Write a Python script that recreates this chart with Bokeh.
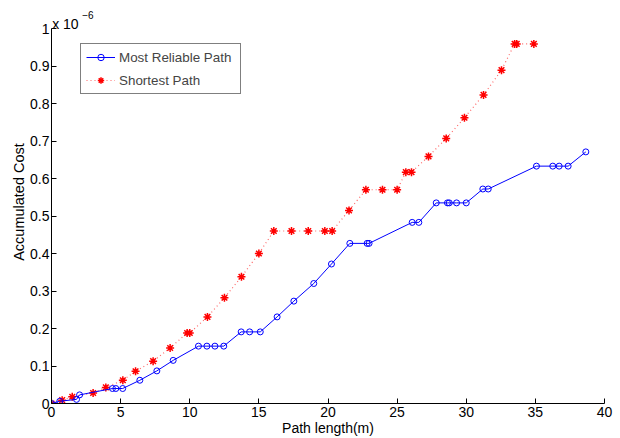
from bokeh.plotting import figure
from bokeh.models import Range1d, FixedTicker, Legend, LegendItem, Label
from bokeh.embed import file_html
from bokeh.resources import INLINE

# Accumulated cost (units of 1e-6) against path length (m)
reliable_len = [0, 0.6, 1.81, 2.03, 4.41, 4.65, 5.15, 6.39, 7.62, 8.8, 10.63, 11.24,
                11.82, 12.46, 13.72, 14.33, 15.1, 16.32, 17.53, 18.97, 20.25, 21.58,
                22.83, 22.97, 26.09, 26.57, 27.83, 28.64, 28.77, 29.3, 30.0, 31.2,
                31.59, 35.08, 36.26, 36.72, 37.37, 38.65]
reliable_cost = [0, 0.006, 0.011, 0.023, 0.040, 0.040, 0.040, 0.062, 0.087, 0.115,
                 0.153, 0.153, 0.153, 0.153, 0.191, 0.191, 0.191, 0.231, 0.273, 0.320,
                 0.372, 0.427, 0.427, 0.427, 0.483, 0.483, 0.535, 0.535, 0.535, 0.535,
                 0.535, 0.572, 0.572, 0.633, 0.633, 0.633, 0.633, 0.671]

shortest_len = [0, 0.77, 1.5, 3.01, 3.93, 5.16, 6.08, 7.35, 8.58, 9.81, 10.0, 11.28,
                12.51, 13.74, 15.0, 16.08, 17.36, 18.57, 19.77, 20.3, 21.52, 22.74,
                23.94, 25.0, 25.63, 26.04, 27.27, 28.55, 29.87, 31.25, 32.55, 33.5,
                33.65, 34.89]
shortest_cost = [0, 0.009, 0.018, 0.028, 0.043, 0.062, 0.086, 0.113, 0.148, 0.188,
                 0.188, 0.231, 0.282, 0.338, 0.400, 0.460, 0.460, 0.460, 0.460, 0.460,
                 0.515, 0.570, 0.570, 0.570, 0.617, 0.617, 0.659, 0.707, 0.762, 0.823,
                 0.889, 0.959, 0.959, 0.959]

x_ticks = [0, 5, 10, 15, 20, 25, 30, 35, 40]
y_ticks = [0, 0.1, 0.2, 0.3, 0.4, 0.5, 0.6, 0.7, 0.8, 0.9, 1]
y_tick_labels = ["0", "0.1", "0.2", "0.3", "0.4", "0.5", "0.6", "0.7", "0.8", "0.9", "1"]

FONT = "Liberation Sans"

# The frame runs up to the top edge so the exponent note above the axis is
# not clipped; the y axis line itself stops at 1.
Y_TOP = 1 + 28 / 375

p = figure(width=620, height=438, output_backend="svg", toolbar_location=None,
           x_range=Range1d(0, 40), y_range=Range1d(0, Y_TOP),
           min_border_left=51, min_border_right=16, min_border_top=0,
           min_border_bottom=35)
p.outline_line_color = None
p.xgrid.visible = False
p.ygrid.visible = False
p.background_fill_color = "white"
p.border_fill_color = "white"

for ax in (p.xaxis[0], p.yaxis[0]):
    ax.axis_line_color = "black"
    ax.axis_line_width = 1
    ax.major_tick_in = 5
    ax.major_tick_out = 0
    ax.minor_tick_in = 0
    ax.minor_tick_out = 0
    ax.major_tick_line_color = "black"
    ax.major_label_text_font = FONT
    ax.major_label_text_font_size = "14px"
    ax.major_label_text_color = "black"
    ax.axis_label_text_font = FONT
    ax.axis_label_text_font_size = "14px"
    ax.axis_label_text_font_style = "normal"
    ax.axis_label_text_color = "black"

p.yaxis.axis_label_text_font_size = "14.5px"
p.xaxis.ticker = FixedTicker(ticks=x_ticks)
p.yaxis.ticker = FixedTicker(ticks=y_ticks)
p.yaxis.bounds = (0, 1)
p.yaxis.major_label_overrides = {t: s for t, s in zip(y_ticks, y_tick_labels)}
p.xaxis.axis_label = "Path length(m)"
p.yaxis.axis_label = "Accumulated Cost"
p.xaxis.major_label_standoff = 3
p.yaxis.major_label_standoff = 2
p.xaxis.axis_label_standoff = 0
p.yaxis.axis_label_standoff = 0

# Shortest path: red dotted line with star markers
s_line = p.line(shortest_len, shortest_cost, line_color="red", line_alpha=0.6,
                line_width=1.2, line_dash="1 3")
s_mark = p.scatter(shortest_len, shortest_cost, marker="asterisk", size=8,
                   line_color="red", line_width=1.5)

# Most reliable path: blue solid line with open circles
r_line = p.line(reliable_len, reliable_cost, line_color="blue", line_width=1)
r_mark = p.scatter(reliable_len, reliable_cost, marker="circle", size=6,
                   line_color="blue", fill_color=None, line_width=1)

legend = Legend(items=[
    LegendItem(label="Most Reliable Path", renderers=[r_line, r_mark]),
    LegendItem(label="Shortest Path", renderers=[s_line, s_mark]),
], location=(29, 309))
legend.border_line_color = "black"
legend.border_line_width = 1
legend.background_fill_color = "white"
legend.background_fill_alpha = 1
legend.label_text_font = FONT
legend.label_text_font_size = "13.4px"
legend.padding = 5
legend.spacing = 7
legend.glyph_width = 29
legend.glyph_height = 16
legend.label_height = 16
legend.label_width = 116
legend.label_standoff = 4
legend.margin = 0
legend.title_standoff = 0
p.add_layout(legend)

# Exponent multiplier above the y axis
p.add_layout(Label(x=0.05, y=1.0115, text="x 10", text_font=FONT,
                   text_font_size="14px", text_baseline="alphabetic",
                   text_color="black"))
p.add_layout(Label(x=2.22, y=1.0355, text="\u22126", text_font=FONT,
                   text_font_size="10px", text_baseline="alphabetic",
                   text_color="black"))

open("out.html", "w").write(file_html(p, INLINE))
